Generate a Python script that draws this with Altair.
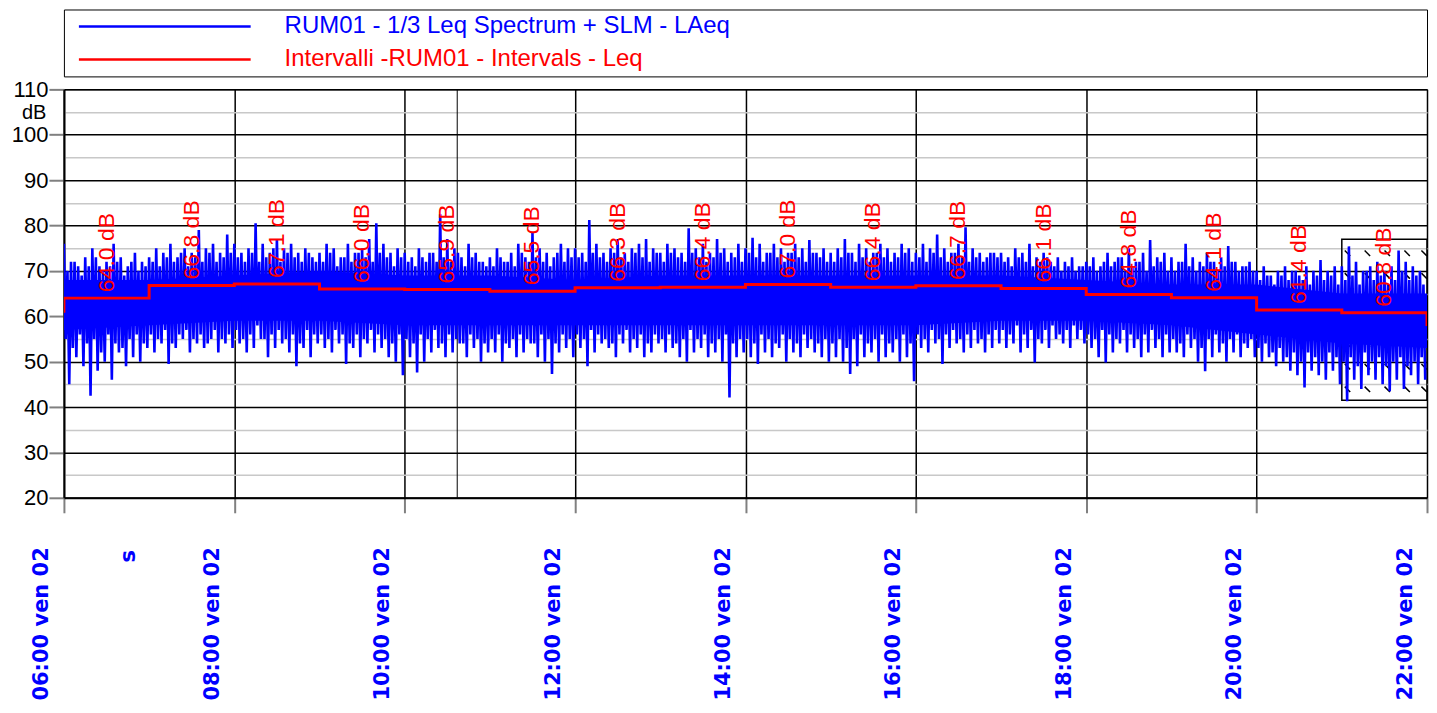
import altair as alt
import pandas as pd

DAY = "2024-02-02"  # a Friday ("ven 02")

# ---- Interval Leq (red step line), one value per hour, 06:00 .. 21:00 ----
interval_hours = list(range(6, 22))
interval_leq = [64.0, 66.8, 67.1, 66.0, 65.9, 65.5, 66.3, 66.4,
                67.0, 66.4, 66.7, 66.1, 64.8, 64.1, 61.4, 60.8]
leq_before = 61.1   # 05:00-06:00 interval (only its edge is visible)
leq_after = 58.2    # 22:00-23:00 interval (only its edge is visible)

# ---- LAeq time history (blue), per 5-minute slot, 12 per hour ----
# main peak, secondary dip, secondary peak, main dip
laeq_hi = [
    [76, 72, 71, 73, 75, 71, 72, 76, 73, 71, 74, 72],        # 06
    [73, 75, 74, 76, 73, 75, 74, 79, 75, 76, 74, 78],        # 07
    [76, 74, 75, 80.5, 76, 74, 77, 75, 76, 74, 75, 73],      # 08
    [74, 76, 75, 73, 76, 74, 75, 77, 80.5, 76, 74, 75],      # 09
    [74, 73, 75, 72, 74, 82.5, 77, 75, 73, 76, 74, 72],      # 10
    [73, 75, 72, 74, 76, 73, 78.4, 75, 74, 73, 76, 75],      # 11
    [75, 74, 81.2, 76, 74, 75, 77, 74, 75, 76, 77, 75],      # 12
    [74, 76, 75, 74, 79.4, 75, 76, 74, 77, 75, 74, 76],      # 13
    [75, 77.3, 76, 74, 76, 75, 74, 76, 75, 76.8, 74, 75],    # 14
    [74, 75, 77, 74, 76, 75, 74, 76, 75, 74, 76, 75],        # 15
    [74, 76, 75, 78, 75, 74, 76, 79.6, 75, 74, 73, 74],      # 16
    [74, 73, 75, 74, 76, 73, 74, 72, 73, 72, 73, 71],        # 17
    [72, 73, 71, 74, 72, 73, 75, 72, 74, 76.8, 73, 74],      # 18
    [73, 72, 76, 73, 72, 74, 72, 73, 75.5, 72, 71, 72],      # 19
    [70, 71, 69, 70, 71, 70, 69, 71, 70, 72.4, 70, 71],      # 20
    [71, 75.4, 72, 70, 71, 72, 70, 71, 74.5, 72, 71, 70],    # 21
]
laeq_lo2 = [
    [55, 53, 56, 54, 55, 52, 56, 54, 53, 55, 56, 54],        # 06
    [56, 55, 57, 54, 56, 57, 55, 56, 54, 57, 55, 56],        # 07
    [57, 55, 56, 58, 55, 56, 57, 55, 56, 54, 57, 56],        # 08
    [56, 55, 57, 56, 54, 56, 55, 57, 56, 55, 54, 56],        # 09
    [55, 54, 56, 55, 57, 54, 56, 55, 54, 56, 55, 54],        # 10
    [55, 56, 54, 55, 56, 55, 54, 56, 55, 54, 56, 55],        # 11
    [56, 55, 57, 56, 55, 54, 56, 57, 55, 56, 54, 56],        # 12
    [55, 56, 54, 55, 57, 55, 56, 54, 55, 56, 54, 55],        # 13
    [55, 54, 56, 55, 54, 56, 55, 54, 56, 55, 54, 55],        # 14
    [54, 55, 53, 55, 56, 54, 55, 56, 54, 55, 56, 54],        # 15
    [56, 55, 57, 55, 56, 57, 55, 56, 57, 55, 56, 57],        # 16
    [57, 56, 58, 56, 57, 55, 57, 58, 56, 57, 58, 57],        # 17
    [56, 55, 57, 56, 55, 57, 56, 55, 56, 57, 55, 56],        # 18
    [55, 54, 56, 55, 53, 55, 56, 54, 55, 56, 54, 55],        # 19
    [53, 54, 52, 53, 51, 52, 50, 52, 51, 50, 52, 51],        # 20
    [50, 51, 49, 52, 50, 51, 49, 50, 51, 49, 50, 51],        # 21
]
laeq_hi2 = [
    [70, 72, 69, 71, 73, 70, 71, 72, 69, 72, 70, 71],        # 06
    [72, 71, 73, 72, 74, 71, 73, 72, 74, 72, 73, 74],        # 07
    [73, 72, 74, 72, 73, 75, 72, 74, 73, 72, 74, 72],        # 08
    [72, 74, 71, 73, 72, 74, 73, 72, 74, 73, 71, 73],        # 09
    [72, 71, 73, 74, 72, 73, 72, 74, 71, 73, 72, 71],        # 10
    [71, 73, 72, 71, 74, 72, 73, 72, 71, 74, 72, 73],        # 11
    [73, 72, 74, 73, 72, 74, 73, 72, 74, 73, 72, 74],        # 12
    [72, 74, 73, 72, 74, 73, 72, 73, 74, 72, 73, 72],        # 13
    [74, 73, 72, 74, 73, 72, 74, 73, 72, 74, 73, 72],        # 14
    [72, 73, 74, 72, 73, 72, 74, 73, 72, 73, 74, 72],        # 15
    [73, 72, 74, 73, 72, 74, 73, 72, 73, 72, 74, 73],        # 16
    [72, 71, 73, 72, 71, 72, 73, 71, 70, 71, 70, 71],        # 17
    [71, 70, 72, 71, 73, 70, 71, 72, 70, 71, 72, 70],        # 18
    [70, 72, 71, 70, 71, 72, 70, 71, 72, 70, 71, 70],        # 19
    [68, 69, 67, 69, 68, 70, 68, 67, 69, 68, 69, 67],        # 20
    [68, 69, 67, 70, 68, 69, 67, 68, 70, 68, 69, 67],        # 21
]
laeq_lo = [
    [45, 51, 49, 42.5, 48, 50, 46, 52, 49, 51, 50, 53],      # 06
    [52, 54, 49.5, 53, 55, 52, 54, 53, 55, 52, 54, 53],      # 07
    [54, 52, 53, 55, 51, 53, 54, 52, 49, 53, 51, 54],        # 08
    [53, 52, 54, 49.5, 53, 51, 54, 52, 53, 51, 50, 47],      # 09
    [51, 47.6, 50, 52, 53, 51, 52, 54, 51, 53, 50, 52],      # 10
    [52, 50, 53, 51, 52, 54, 51, 50, 47.3, 52, 53, 51],      # 11
    [53, 49, 52, 54, 53, 51, 54, 52, 53, 51, 52, 54],        # 12
    [52, 53, 51, 50, 52, 53, 51, 52, 50, 42.1, 51, 52],      # 13
    [51, 49.5, 52, 51, 53, 50, 52, 51, 53, 52, 51, 50],      # 14
    [51, 50, 47.3, 49, 51, 52, 50, 51, 52, 50, 51, 45.7],    # 15
    [53, 52, 54, 49.5, 53, 54, 52, 53, 54, 52, 53, 54],      # 16
    [53, 54, 52, 53, 49.8, 54, 53, 55, 54, 53, 55, 54],      # 17
    [53, 51, 49.8, 52, 54, 52, 53, 51, 52, 53, 51, 52],      # 18
    [52, 51, 53, 50, 47.9, 51, 52, 50, 52, 51, 53, 51],      # 19
    [50, 51, 49, 50, 48, 47, 44.3, 48, 47, 46, 48, 45],      # 20
    [41.3, 46, 44, 47, 46, 45, 43.5, 46, 44, 47, 45, 46],    # 21
]

# dense core of the blue trace, at the hour boundaries 06:00 .. 22:00
core_hours = list(range(6, 23))
core_hi = [68, 68, 69, 70, 69, 69, 68, 69, 69, 69, 69, 69, 68, 67, 67, 65, 65]
core_lo = [57, 58, 59, 59, 58, 58, 58, 58, 58, 58, 58, 59, 59, 58, 56, 54, 53]

# cursor line and the hatched marker box
cursor_time = "10:37"
marker_start, marker_end = "21:00", "22:00"
marker_lo, marker_hi = 41.5, 77.0
hatch_times = ["21:04", "21:18", "21:32", "21:46", "21:58"]
hatch_levels = [73.9, 68.9, 63.9, 58.9, 53.9, 48.9, 43.9]

legend_series = ["RUM01 - 1/3 Leq Spectrum + SLM - LAeq",
                 "Intervalli -RUM01 - Intervals - Leq"]
legend_colors = ["#0000ff", "#ff0000"]

x_tick_hours = list(range(6, 23, 2))
y_levels = list(range(20, 111, 5))


def ts(h, m=0, s=0):
    return f"{DAY}T{h:02d}:{m:02d}:{s:02d}"


def hm(txt):
    h, m = txt.split(":")
    return ts(int(h), int(m))


# ---- tables ----
blue_rows = []
for i, h in enumerate(interval_hours):
    for b in range(12):
        m = b * 5
        blue_rows.append({"t": ts(h, m, 0), "v": laeq_hi[i][b]})
        blue_rows.append({"t": ts(h, m + 1, 15), "v": laeq_lo2[i][b]})
        blue_rows.append({"t": ts(h, m + 2, 30), "v": laeq_hi2[i][b]})
        blue_rows.append({"t": ts(h, m + 3, 45), "v": laeq_lo[i][b]})
blue_df = pd.DataFrame(blue_rows)

core_df = pd.DataFrame({"t": [ts(h) for h in core_hours], "hi": core_hi, "lo": core_lo})

step_hours = [5] + interval_hours + [22, 23]
step_vals = [leq_before] + interval_leq + [leq_after, leq_after]
red_df = pd.DataFrame({"t": [ts(h) for h in step_hours], "v": step_vals})

lab_df = pd.DataFrame({
    "t": [ts(h, 30) for h in interval_hours],
    "v": interval_leq,
    "label": [f"{v:.1f} dB" for v in interval_leq],
})

cursor_df = pd.DataFrame({"t": [hm(cursor_time)]})
box_df = pd.DataFrame({"t0": [hm(marker_start)], "t1": [hm(marker_end)],
                       "lo": [marker_lo], "hi": [marker_hi]})
hatch_df = pd.DataFrame([{"t": hm(t), "v": lv} for t in hatch_times for lv in hatch_levels])
legend_df = pd.DataFrame({"name": legend_series, "row": list(range(len(legend_series)))})

# ---- scales & axes ----
def dt(h):
    return alt.DateTime(year=2024, month=2, date=2, hours=h)

xs = alt.Scale(domain=[dt(6), dt(22)])
ys = alt.Scale(domain=[20, 110], nice=False, zero=False)

x_axis = alt.Axis(
    values=[dt(h) for h in x_tick_hours], format="%H:%M %a %d",
    labelAngle=270, labelAlign="right", labelBaseline="middle",
    labelOffset=-22, labelPadding=34, labelFont="DejaVu Sans",
    labelFontWeight="bold", labelFontSize=21, labelColor="#0000ff",
    labelOverlap=False, labelFlush=False,
    tickSize=15, tickColor="#808080", tickWidth=2,
    grid=True, gridColor="black", gridWidth=1.5,
    domainColor="black", domainWidth=2,
    title="s", titleAngle=270, titleAlign="center", titleBaseline="middle",
    titleX=65, titleY=58, titleFont="DejaVu Sans", titleFontWeight="bold",
    titleFontSize=21, titleColor="#0000ff",
)
y_axis = alt.Axis(
    values=y_levels,
    labelExpr="datum.value % 10 == 0 ? datum.value : ''",
    grid=True,
    gridColor={"condition": {"test": "datum.value % 10 == 0", "value": "black"},
               "value": "#c8c8c8"},
    gridWidth=1.5,
    tickColor={"condition": {"test": "datum.value % 10 == 0", "value": "#808080"},
               "value": "transparent"},
    tickSize=15, tickWidth=2,
    labelFont="Liberation Sans", labelFontSize=22, labelColor="black",
    labelPadding=1, labelOverlap=False, labelFlush=False,
    domainColor="black", domainWidth=2,
    title="dB", titleAngle=0, titleAlign="right", titleBaseline="middle",
    titleX=-18, titleY=23, titleFont="Liberation Sans", titleFontSize=20,
    titleFontWeight="normal", titleColor="black",
)


def X(f="t"):
    return alt.X(f"{f}:T", scale=xs, axis=x_axis)


def Y(f="v"):
    return alt.Y(f"{f}:Q", scale=ys, axis=y_axis)


hatch = alt.Chart(hatch_df).mark_point(
    shape="M-1,-1L1,1", size=30, filled=False, color="black",
    strokeWidth=1.5, opacity=1, clip=True
).encode(x=X(), y=Y())

box = alt.Chart(box_df).mark_rect(
    fillOpacity=0, stroke="black", strokeWidth=1.5, clip=True
).encode(x=X("t0"), x2="t1:T", y=Y("lo"), y2="hi:Q")

cursor = alt.Chart(cursor_df).mark_rule(color="black", strokeWidth=1).encode(x=X())

core = alt.Chart(core_df).mark_area(color="#0000ff", opacity=1, clip=True).encode(
    x=X(), y=Y("lo"), y2="hi:Q")

blue = alt.Chart(blue_df).mark_line(color="#0000ff", strokeWidth=2.6, clip=True).encode(
    x=X(), y=Y())

red = alt.Chart(red_df).mark_line(
    color="#ff0000", strokeWidth=3, interpolate="step-after", clip=True
).encode(x=X(), y=Y())

red_lab = alt.Chart(lab_df).mark_text(
    angle=270, align="left", baseline="middle", dx=6, color="#ff0000",
    font="Liberation Sans", fontSize=23
).encode(x=X(), y=Y(), text="label:N")

main = alt.layer(hatch, box, cursor, core, blue, red, red_lab).properties(
    width=1365, height=409)

# ---- legend panel ----
ly = alt.Y("row:Q", scale=alt.Scale(domain=[0, 1], range=[17, 50], nice=False, zero=False),
           axis=None)
lc = alt.Color("name:N", scale=alt.Scale(domain=legend_series, range=legend_colors),
               legend=None)
leg_lines = alt.Chart(legend_df).mark_rule(strokeWidth=2.5).encode(
    x=alt.value(15), x2=alt.value(187), y=ly, color=lc)
leg_text = alt.Chart(legend_df).mark_text(
    align="left", baseline="middle", font="Liberation Sans", fontSize=24
).encode(x=alt.value(221), y=ly, text="name:N", color=lc)
legend_panel = alt.layer(leg_lines, leg_text).properties(width=1365, height=67)

it_locale = {
    "time": {
        "dateTime": "%A %e %B %Y, %X",
        "date": "%d/%m/%Y",
        "time": "%H:%M:%S",
        "periods": ["AM", "PM"],
        "days": ["domenica", "lunedì", "martedì", "mercoledì", "giovedì", "venerdì", "sabato"],
        "shortDays": ["dom", "lun", "mar", "mer", "gio", "ven", "sab"],
        "months": ["gennaio", "febbraio", "marzo", "aprile", "maggio", "giugno", "luglio",
                   "agosto", "settembre", "ottobre", "novembre", "dicembre"],
        "shortMonths": ["gen", "feb", "mar", "apr", "mag", "giu", "lug", "ago", "set",
                        "ott", "nov", "dic"],
    }
}

chart = alt.vconcat(legend_panel, main, spacing=13, bounds="flush").resolve_scale(
    x="independent", y="independent", color="independent"
).properties(
    padding={"left": 2, "top": 0, "right": 0, "bottom": 0},
).configure(locale=it_locale).configure_view(stroke="black", strokeWidth=1)

chart.save("out.html", embed_options={"renderer": "svg", "actions": False})
